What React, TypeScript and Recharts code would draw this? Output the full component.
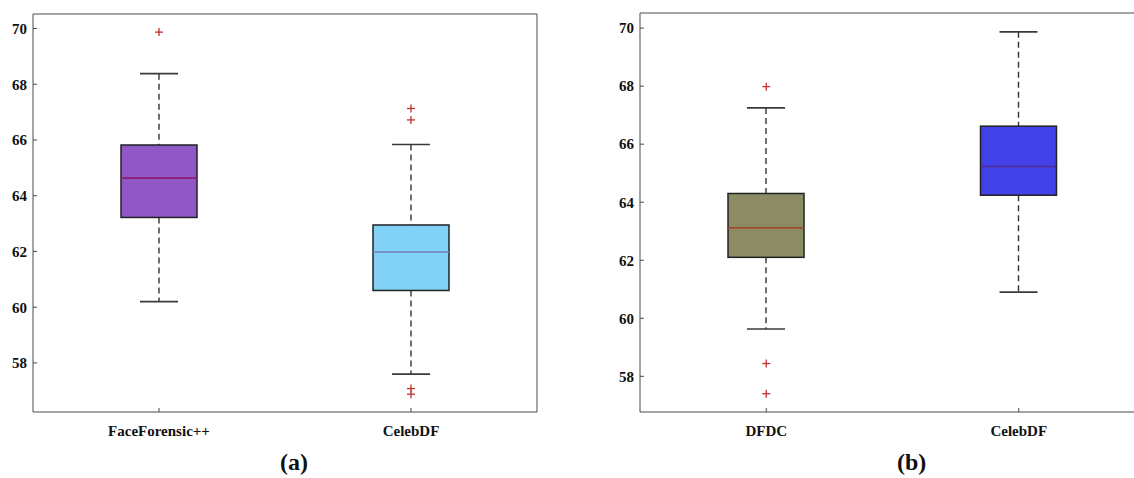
import React from "react";
import { ComposedChart, Bar, Scatter, XAxis, YAxis } from "recharts";

// panel (a)
const categoriesA = ["FaceForensic++", "CelebDF"];
const minA = [60.2, 57.6];
const q1A = [63.22, 60.6];
const medianA = [64.63, 61.98];
const q3A = [65.82, 62.95];
const maxA = [68.38, 65.84];
const outliersA = [[69.87], [67.13, 66.72, 57.08, 56.88]];
const fillA = ["#9058c6", "#82d1f6"];
const medianColorA = ["#8b1e6e", "#6f7db4"];

// panel (b)
const categoriesB = ["DFDC", "CelebDF"];
const minB = [59.63, 60.9];
const q1B = [62.1, 64.24];
const medianB = [63.12, 65.23];
const q3B = [64.3, 66.62];
const maxB = [67.25, 69.87];
const outliersB = [[67.98, 58.44, 57.4], []];
const fillB = ["#8b8b64", "#4242e8"];
const medianColorB = ["#a3432b", "#4f2b8e"];

const yTicks = [58, 60, 62, 64, 66, 68, 70];
const FONT = "Times New Roman, Liberation Serif, DejaVu Serif, serif";
const AXIS = "#4a4a4a";

function buildRows(
  categories: string[],
  min: number[],
  q1: number[],
  median: number[],
  q3: number[],
  max: number[],
  outliers: number[][],
  fill: string[],
  medianColor: string[]
) {
  return categories.map((name, i) => {
    const row: any = {
      name,
      min: min[i],
      q1: q1[i],
      median: median[i],
      q3: q3[i],
      max: max[i],
      fill: fill[i],
      medianColor: medianColor[i],
    };
    outliers[i].forEach((v, k) => {
      row[`o${k}`] = v;
    });
    return row;
  });
}

const BoxShape = (props: any) => {
  const { x, y, width, height, payload } = props;
  if (x == null || y == null) return null;
  const top = Math.min(y, y + height);
  const bottom = Math.max(y, y + height);
  const ppu = (bottom - top) / (payload.max - payload.min);
  const py = (v: number) => bottom - (v - payload.min) * ppu;
  const cx = x + width / 2;
  const cap = width / 4;
  const yQ1 = py(payload.q1);
  const yQ3 = py(payload.q3);
  const yMed = py(payload.median);
  return (
    <g>
      <line x1={cx} x2={cx} y1={top} y2={yQ3} stroke="#333" strokeWidth={1.4} strokeDasharray="6 4" />
      <line x1={cx} x2={cx} y1={yQ1} y2={bottom} stroke="#333" strokeWidth={1.4} strokeDasharray="6 4" />
      <line x1={cx - cap} x2={cx + cap} y1={top} y2={top} stroke="#3a3a3a" strokeWidth={1.6} />
      <line x1={cx - cap} x2={cx + cap} y1={bottom} y2={bottom} stroke="#3a3a3a" strokeWidth={1.6} />
      <rect x={x} y={yQ3} width={width} height={yQ1 - yQ3} fill={payload.fill} stroke="#222" strokeWidth={1.5} />
      <line x1={x} x2={x + width} y1={yMed} y2={yMed} stroke={payload.medianColor} strokeWidth={1.6} />
    </g>
  );
};

const PlusShape = (props: any) => {
  const { cx, cy } = props;
  if (cx == null || cy == null || isNaN(cy)) return null;
  return (
    <g>
      <line x1={cx - 4} x2={cx + 4} y1={cy} y2={cy} stroke="#c0302f" strokeWidth={1.3} />
      <line x1={cx} x2={cx} y1={cy - 4} y2={cy + 4} stroke="#c0302f" strokeWidth={1.3} />
    </g>
  );
};

function BoxPanel({ data, domain, width, top, yAxisWidth, outlierSlots, showRight }: any) {
  const tickStyle = { fontFamily: FONT, fontWeight: 700, fontSize: 15, fill: "#111" };
  return (
    <ComposedChart
      width={width}
      height={478}
      data={data}
      margin={{ top, right: 22, bottom: 36, left: 0 }}
      style={{ fontFamily: FONT }}
    >
      <XAxis
        xAxisId="bottom"
        dataKey="name"
        orientation="bottom"
        height={30}
        tickSize={-4}
        tickMargin={17}
        stroke={AXIS}
        tick={tickStyle}
        interval={0}
      />
      <XAxis
        xAxisId="top"
        dataKey="name"
        orientation="top"
        height={1}
        tickSize={-4}
        tick={false}
        stroke={AXIS}
      />
      <YAxis
        yAxisId="left"
        type="number"
        domain={domain}
        ticks={yTicks}
        allowDataOverflow
        width={yAxisWidth}
        tickSize={-4}
        tickMargin={10}
        stroke={AXIS}
        tick={tickStyle}
      />
      <YAxis
        yAxisId="right"
        orientation="right"
        type="number"
        domain={domain}
        ticks={yTicks}
        allowDataOverflow
        width={1}
        tickSize={-4}
        tick={false}
        tickLine={showRight}
        axisLine={showRight}
        stroke={AXIS}
      />
      <Bar
        xAxisId="bottom"
        yAxisId="left"
        dataKey={(d: any) => [d.min, d.max]}
        barSize={76}
        shape={<BoxShape />}
        isAnimationActive={false}
      />
      {Array.from({ length: outlierSlots }).map((_, k) => (
        <Scatter
          key={k}
          xAxisId="bottom"
          yAxisId="left"
          dataKey={`o${k}`}
          shape={<PlusShape />}
          isAnimationActive={false}
        />
      ))}
    </ComposedChart>
  );
}

export default function App() {
  const dataA = buildRows(categoriesA, minA, q1A, medianA, q3A, maxA, outliersA, fillA, medianColorA);
  const dataB = buildRows(categoriesB, minB, q1B, medianB, q3B, maxB, outliersB, fillB, medianColorB);
  const label = {
    position: "absolute" as const,
    fontFamily: FONT,
    fontWeight: 700,
    fontSize: 24,
    color: "#111",
    lineHeight: "24px",
  };
  return (
    <div
      style={{
        position: "fixed",
        left: 0,
        top: 0,
        width: 1134,
        height: 478,
        overflow: "hidden",
        background: "#fff",
      }}
    >
      <div style={{ position: "absolute", left: 0, top: 0 }}>
        <BoxPanel data={dataA} domain={[56.24, 70.52]} width={560} top={13} yAxisWidth={33} outlierSlots={4} showRight={true} />
      </div>
      <div style={{ position: "absolute", left: 590, top: 0 }}>
        <BoxPanel data={dataB} domain={[56.77, 70.52]} width={578} top={12} yAxisWidth={50} outlierSlots={3} showRight={false} />
      </div>
      <div style={{ ...label, left: 280, top: 450 }}>(a)</div>
      <div style={{ ...label, left: 897, top: 450 }}>(b)</div>
    </div>
  );
}
